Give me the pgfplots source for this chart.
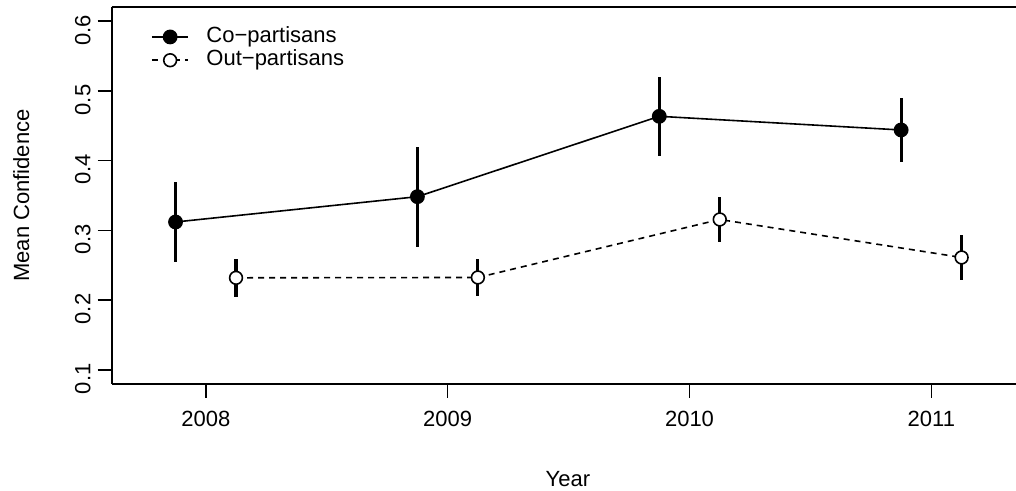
\documentclass[border=0pt]{standalone}
\usepackage{fontspec}
\setmainfont{Liberation Sans}
\usepackage{pgfplots}
\usepackage{pgfplotstable}
\pgfplotsset{compat=1.18}

\pgfplotstableread{
x y e
2007.875 0.3120 0.0578
2008.875 0.3483 0.0717
2009.875 0.4636 0.0569
2010.875 0.4440 0.0455
}\copart
\pgfplotstableread{
x y e
2008.125 0.2319 0.0275
2009.125 0.2324 0.0266
2010.125 0.3156 0.0319
2011.125 0.2611 0.0323
}\outpart

\begin{document}
\begin{tikzpicture}
\path[use as bounding box] (0,0) rectangle (508bp,245.5bp);
\clip (0,0) rectangle (508bp,245.5bp);
\begin{axis}[
  at={(55.85bp,53.65bp)}, anchor=south west,
  scale only axis, width=456.15bp, height=188.2bp,
  xmin=2007.611, xmax=2011.383,
  ymin=0.08, ymax=0.62,
  axis x line*=box, axis y line*=left,
  axis line style={-, line width=0.8bp},
  xtick={2008,2009,2010,2011},
  xticklabels={2008,2009,2010,2011},
  ytick={0.1,0.2,0.3,0.4,0.5,0.6},
  yticklabels={0.1,0.2,0.3,0.4,0.5,0.6},
  xtick pos=bottom, ytick pos=left,
  tick align=outside,
  major tick length=7bp,
  tick style={line width=0.8bp, black},
  tick label style={font=\fontsize{11bp}{13bp}\selectfont},
  yticklabel style={rotate=90, anchor=south, xshift=-4.5bp},
  xticklabel style={yshift=-3bp},
  label style={font=\fontsize{11bp}{13bp}\selectfont},
  xlabel={Year},
  xlabel style={at={(axis description cs:0.5,-0.2718)}, anchor=base},
  ylabel={Mean Confidence},
  ylabel style={at={(axis description cs:-0.0905,0.5)}, anchor=base, rotate=0},
  legend cell align=left,
  legend image code/.code={\draw[mark repeat=2,mark phase=2,#1] plot coordinates {(0bp,0bp) (9.15bp,0bp) (18.3bp,0bp)};},
  legend style={at={(axis description cs:0.0427,0.8903)}, anchor=west,
    draw=none, fill=none, inner sep=0pt, row sep=1.35bp,
    nodes={inner sep=0pt, text height=7.9bp, text depth=2.4bp},
    /tikz/every odd column/.append style={column sep=8.6bp},
    font=\fontsize{11bp}{13bp}\selectfont},
]
\addplot[black, line width=0.8bp, mark=*, mark size=3.3bp,
  mark options={solid, fill=black},
  error bars/.cd, y dir=both, y explicit,
  error bar style={line width=1.6bp, solid, black}, error mark=none]
  table[x=x, y=y, y error=e] {\copart};
\addlegendentry{Co−partisans}
\addplot[black, line width=0.8bp, dash pattern=on 3bp off 2.5bp, mark=*, mark size=3.2bp,
  mark options={solid, fill=white, line width=0.8bp},
  error bars/.cd, y dir=both, y explicit,
  error bar style={line width=1.6bp, solid, black}, error mark=none]
  table[x=x, y=y, y error=e] {\outpart};
\addlegendentry{Out−partisans}
\end{axis}
\end{tikzpicture}
\end{document}
